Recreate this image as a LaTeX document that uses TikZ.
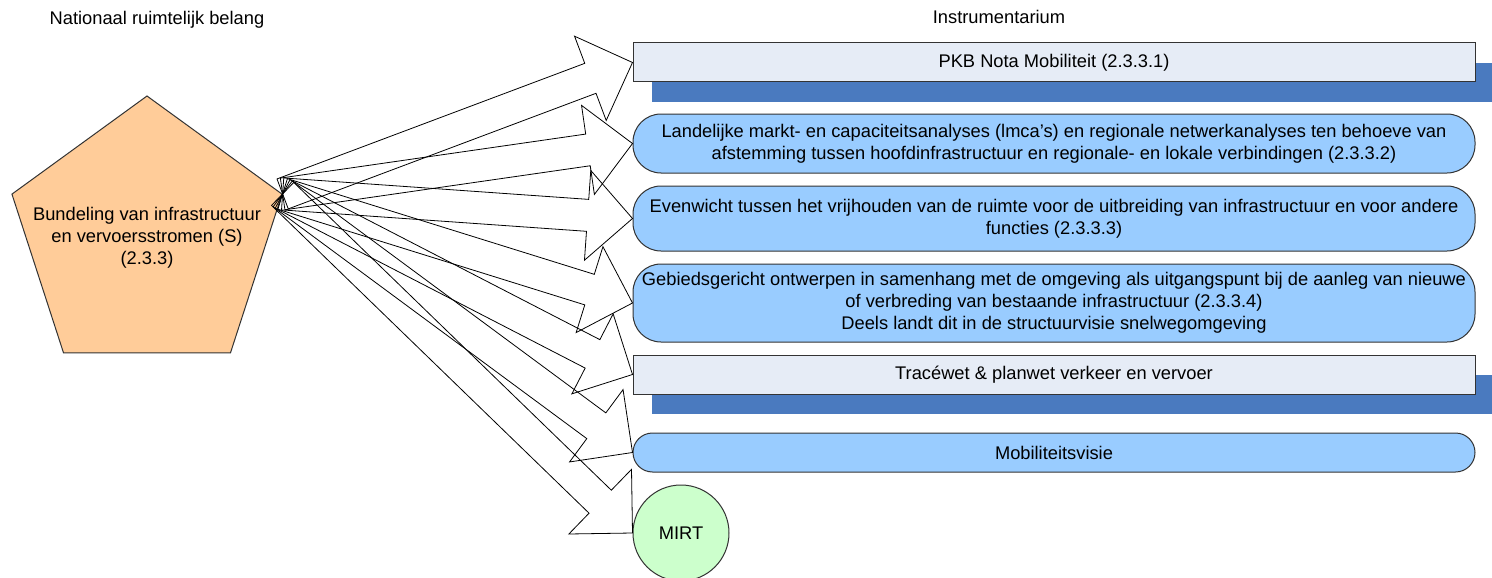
\documentclass[tikz,border=0pt]{standalone}
\usepackage{fontspec}
\setmainfont{Liberation Sans}
\usetikzlibrary{shapes.geometric,shadows,calc}

\definecolor{peach}{HTML}{FFCC99}
\definecolor{lightblue}{HTML}{99CCFF}
\definecolor{paleblue}{HTML}{E6ECF6}
\definecolor{shadowblue}{HTML}{4A7ABF}
\definecolor{mintgreen}{HTML}{CCFFCC}

\begin{document}
\begin{tikzpicture}[x=1pt,y=-1pt,
  every node/.style={font=\fontsize{18.3}{22}\selectfont},
  box/.style={draw=black!80,line width=1pt,minimum width=842pt,align=center,inner sep=0pt},
  plan/.style={box,rectangle,fill=paleblue,drop shadow={shadow xshift=19pt,shadow yshift=-20pt,fill=shadowblue,opacity=1}},
  task/.style={box,rounded corners=28pt,fill=lightblue},
  blockarrow/.style={draw=black,line width=0.8pt}]
\useasboundingbox (0,0) rectangle (1492,578);

% koppen
\node (belang) at (157,20) {Nationaal ruimtelijk belang};
\node (instr) at (999,17) {Instrumentarium};

% nationaal belang
\node[regular polygon,regular polygon sides=5,minimum size=284pt,inner sep=0pt,
      draw=black!80,line width=1pt,fill=peach] (bund) at (147,238) {};
\node[align=center] (bundtxt) at (bund.center) {Bundeling van infrastructuur\\en vervoersstromen (S)\\(2.3.3)};

% instrumenten
\node[plan,minimum height=39pt] (pkb) at (1054,62.5) {PKB Nota Mobiliteit (2.3.3.1)};
\node[task,minimum height=59pt] (lmca) at (1054,143.5) {Landelijke markt- en capaciteitsanalyses (lmca’s) en regionale netwerkanalyses ten behoeve van\\afstemming tussen hoofdinfrastructuur en regionale- en lokale verbindingen (2.3.3.2)};
\node[task,minimum height=65pt] (even) at (1054,218.5) {Evenwicht tussen het vrijhouden van de ruimte voor de uitbreiding van infrastructuur en voor andere\\functies (2.3.3.3)};
\node[task,minimum height=78pt] (gebied) at (1054,303) {Gebiedsgericht ontwerpen in samenhang met de omgeving als uitgangspunt bij de aanleg van nieuwe\\of verbreding van bestaande infrastructuur (2.3.3.4)\\Deels landt dit in de structuurvisie snelwegomgeving};
\node[plan,minimum height=39pt] (trace) at (1054,374.5) {Tracéwet \& planwet verkeer en vervoer};
\node[task,rounded corners=19.5pt,minimum height=39pt] (mobvis) at (1054,452.5) {Mobiliteitsvisie};
\node[circle,draw=black!80,line width=1pt,fill=mintgreen,minimum size=96pt,inner sep=0pt] (mirt) at (681,533) {MIRT};

% brede pijlen
\foreach \t in {pkb,lmca,even,gebied,trace,mobvis,mirt}{
  \coordinate (tail) at (bund.corner 5);
  \coordinate (tip) at (\t.west);
  \coordinate (neck) at ($(tip)!45pt!(tail)$);
  \draw[blockarrow] ($(tail)!16pt!90:(tip)$) -- ($(neck)!16pt!-90:(tail)$)
    -- ($(neck)!45pt!-90:(tail)$) -- (tip) -- ($(neck)!45pt!90:(tail)$)
    -- ($(neck)!16pt!90:(tail)$) -- ($(tail)!16pt!-90:(tip)$) -- cycle;
}
\end{tikzpicture}
\end{document}
